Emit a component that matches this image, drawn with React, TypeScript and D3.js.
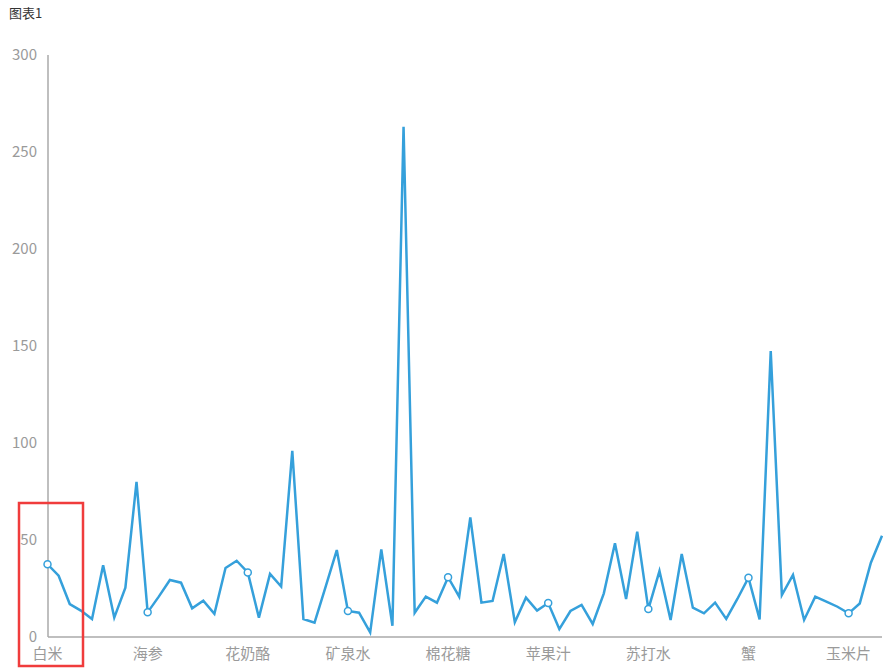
import React from "react";
import * as d3 from "d3";

const title = "图表1";
const categories = [
  "白米", "糙米", "燕麦", "小米", "玉米", "荞麦", "薏米", "黑米", "红豆",
  "海参", "鲍鱼", "扇贝", "虾仁", "鱿鱼", "带鱼", "鲫鱼", "草鱼", "三文鱼",
  "花奶酪", "牛奶", "酸奶", "黄油", "奶油", "豆浆", "豆腐", "鸡蛋", "鸭蛋",
  "矿泉水", "绿茶", "红茶", "咖啡", "可乐", "啤酒", "红酒", "白酒", "果酱",
  "棉花糖", "巧克力", "饼干", "蛋糕", "面包", "馒头", "包子", "饺子", "面条",
  "苹果汁", "橙汁", "葡萄汁", "西瓜", "香蕉", "苹果", "梨", "桃子", "葡萄",
  "苏打水", "柠檬", "菠萝", "芒果", "草莓", "樱桃", "猕猴桃", "椰子", "龙虾",
  "蟹", "牛肉", "猪肉", "羊肉", "鸡肉", "鸭肉", "火腿", "香肠", "培根",
  "玉米片", "薯片", "爆米花", "坚果",
];
const values = [
  37.5, 31.6, 17, 13.6, 9.3, 37, 10, 25.4, 80,
  12.7, 20.8, 29.4, 28, 14.8, 18.7, 11.9, 35.6, 39.3,
  33.3, 10, 32.5, 26, 96, 9.3, 7.4, 26, 44.8,
  13.4, 12.5, 2.4, 45.2, 5.8, 263, 12.5, 20.8, 17.7,
  30.8, 20.8, 61.7, 17.7, 18.6, 42.8, 7.6, 20.3, 13.6,
  17.5, 4.1, 13.4, 16.5, 6.7, 22.5, 48.3, 19.6, 54.3,
  14.4, 34, 8.8, 42.8, 15.1, 12.2, 17.7, 9.3, 19.6,
  30.6, 9.1, 147.4, 21.6, 32, 8.8, 20.8, 18.2, 15.6,
  12.2, 17.3, 38.3, 52.2,
];
const yTicks = [0, 50, 100, 150, 200, 250, 300];
const labelEvery = 9;

const W = 891;
const H = 668;
const left = 47.5;
const right = 882;
const top = 55;
const bottom = 637;
const lineColor = "#35a0db";
const axisColor = "#aaaaaa";
const textColor = "#9a9a9a";
const font = "'Noto Sans CJK SC', 'Noto Sans', sans-serif";

export default function App() {
  const x = d3.scalePoint<string>().domain(categories).range([left, right]);
  const y = d3.scaleLinear().domain([0, 300]).range([bottom, top]);
  const line = d3
    .line<number>()
    .x((_, i) => x(categories[i]) as number)
    .y((d) => y(d));
  const labeled = categories.map((c, i) => i).filter((i) => i % labelEvery === 0);

  return (
    <svg
      width={W}
      height={H}
      style={{ position: "absolute", left: 0, top: 0, background: "#fff" }}
      fontFamily={font}
    >
      <text x={9} y={18} fontSize={13} fill="#333">{title}</text>
      <line x1={48} x2={48} y1={top} y2={bottom} stroke={axisColor} strokeWidth={1.5} />
      <line x1={48} x2={right} y1={bottom} y2={bottom} stroke={axisColor} strokeWidth={1.5} />
      {yTicks.map((t) => (
        <text key={t} x={37} y={y(t)} dy="0.35em" textAnchor="end" fontSize={15} fill={textColor}>
          {t}
        </text>
      ))}
      {labeled.map((i) => (
        <text key={i} x={x(categories[i]) as number} y={654} dy="0.35em" textAnchor="middle" fontSize={15} fill={textColor}>
          {categories[i]}
        </text>
      ))}
      <path d={line(values) || ""} fill="none" stroke={lineColor} strokeWidth={2.5} strokeLinejoin="miter" />
      {labeled.map((i) => (
        <circle key={i} cx={x(categories[i]) as number} cy={y(values[i])} r={3.5} fill="#fff" stroke={lineColor} strokeWidth={1.5} />
      ))}
      <rect x={19} y={503} width={64} height={163} fill="none" stroke="#f03c3c" strokeWidth={2.5} />
    </svg>
  );
}
